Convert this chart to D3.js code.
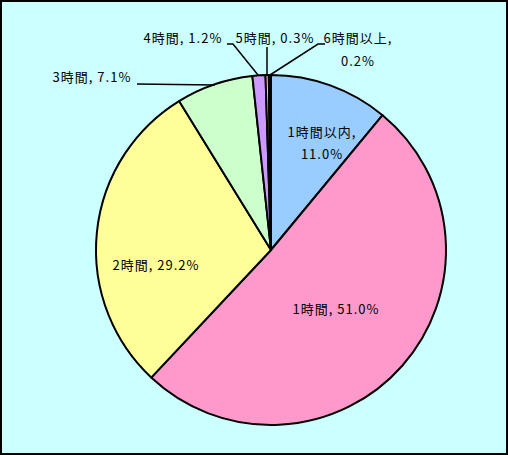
<!DOCTYPE html>
<meta charset="utf-8">
<head>
<style>
body { margin: 0; }
svg { display: block; }
.lbl {
  font-family: "Noto Sans CJK JP", sans-serif;
  font-size: 13px;
  letter-spacing: 1px;
  fill: #000;
}
</style>
<script src="https://d3js.org/d3.v7.min.js"></script>
</head>
<body>
<svg width="508" height="455"></svg>
<script>

// data
var categories = ["1時間以内", "1時間", "2時間", "3時間", "4時間", "5時間", "6時間以上"];
var values = [11.0, 51.0, 29.2, 7.1, 1.2, 0.3, 0.2];
var colors = ["#99CCFF", "#FF99CC", "#FFFF99", "#CCFFCC", "#CC99FF", "#FFCC99", "#333366"];

// label placement (layout only)
var labelPos = [
  {x: 322, y: [137, 159]},
  {x: 336, y: [314]},
  {x: 156, y: [270]},
  {x: 92, y: [82]},
  {x: 183, y: [43]},
  {x: 275, y: [43]},
  {x: 358, y: [43, 66]}
];
// leader lines: [label end point, elbow, pie edge]
var leaders = {
  3: [[137, 84], [137, 84], [215, 85]],
  4: [[227, 44], [233, 44], [258, 75]],
  5: [[267, 47], [267, 47], [267, 75]],
  6: [[325, 44], [318, 44], [270, 75]]
};

var svg = d3.select("svg"),
    width = +svg.attr("width"),
    height = +svg.attr("height");

svg.append("rect")
    .attr("x", 1).attr("y", 1)
    .attr("width", width - 2).attr("height", height - 2)
    .attr("fill", "#CCFFFF")
    .attr("stroke", "#000")
    .attr("stroke-width", 2);

var cx = 271, cy = 250, radius = 175;

var pie = d3.pie().sort(null).value(function(d) { return d; });
var arc = d3.arc().innerRadius(0).outerRadius(radius);

var g = svg.append("g").attr("transform", "translate(" + cx + "," + cy + ")");

g.selectAll("path")
  .data(pie(values))
  .enter().append("path")
    .attr("d", arc)
    .attr("fill", function(d, i) { return colors[i]; })
    .attr("stroke", "#000")
    .attr("stroke-width", 2)
    .attr("stroke-linejoin", "round");

var line = d3.line();
Object.keys(leaders).forEach(function(k) {
  svg.append("path")
    .attr("d", line(leaders[k]))
    .attr("fill", "none")
    .attr("stroke", "#000")
    .attr("stroke-width", 1.5);
});

function labelLines(i) {
  var pct = values[i].toFixed(1) + "%";
  if (labelPos[i].y.length > 1) return [categories[i] + ",", pct];
  return [categories[i] + ", " + pct];
}

categories.forEach(function(c, i) {
  var lines = labelLines(i);
  lines.forEach(function(t, j) {
    svg.append("text")
      .attr("class", "lbl")
      .attr("x", labelPos[i].x)
      .attr("y", labelPos[i].y[j])
      .attr("text-anchor", "middle")
      .text(t);
  });
});

</script>
</body>
